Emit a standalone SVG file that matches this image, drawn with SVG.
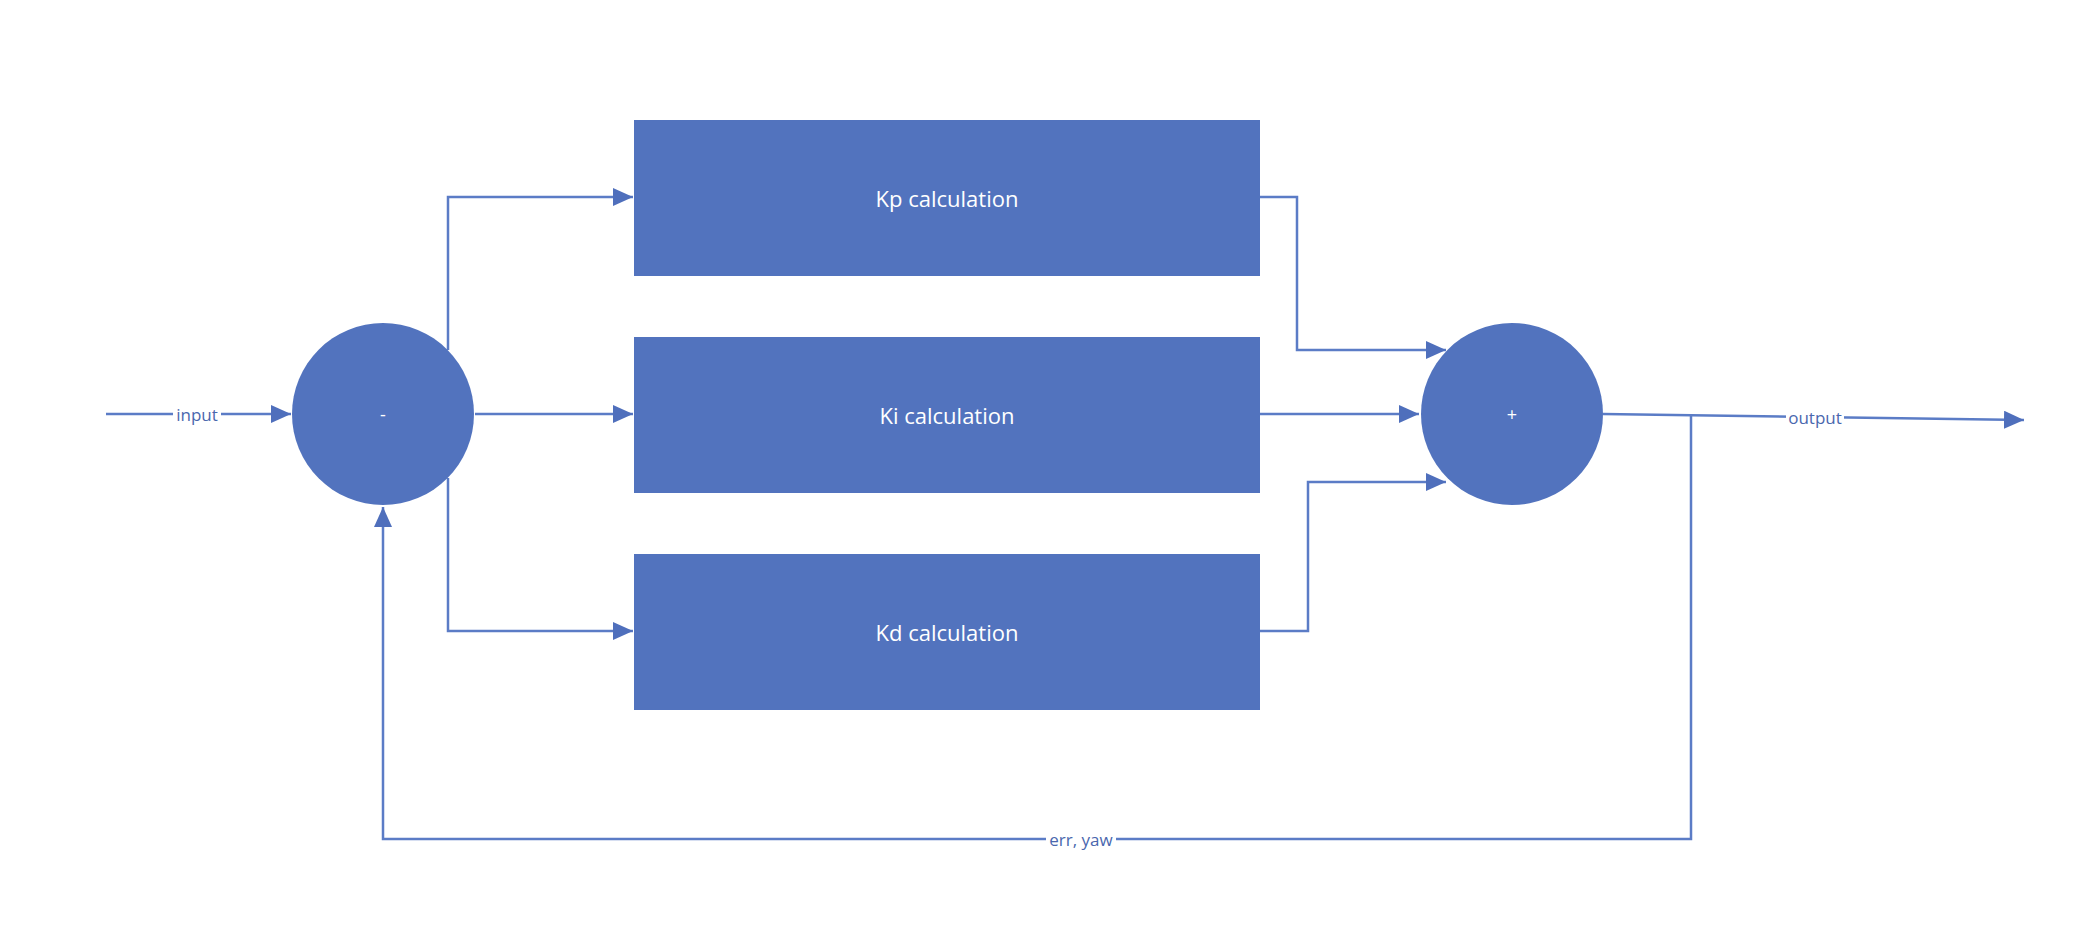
<svg xmlns="http://www.w3.org/2000/svg" width="2088" height="952" viewBox="0 0 2088 952">
<style>
.n{fill:#5273BE}
.t{fill:#fff;font-family:"Open Sans",sans-serif;font-size:22px;text-anchor:middle;dominant-baseline:central}
.c{fill:none;stroke:#5B7CC6;stroke-width:2.5}
.l{fill:#4A67AE;font-family:"Open Sans",sans-serif;font-size:17px;text-anchor:middle;dominant-baseline:central}
.bg{fill:#fff}
</style>
<defs><marker id="a" markerWidth="10" markerHeight="10" refX="9" refY="5" orient="auto" markerUnits="userSpaceOnUse" viewBox="0 0 10 10"><path d="M0,0L10,5L0,10z" fill="#4F6FBC"/></marker>
<marker id="b" markerWidth="20" markerHeight="18" refX="20" refY="9" orient="auto" markerUnits="userSpaceOnUse"><path d="M0,0L20,9L0,18z" fill="#4F6FBC"/></marker></defs>
<rect width="2088" height="952" fill="#fff"/>
<g id="connectors">
<path class="c" d="M106,414H291" marker-end="url(#b)"/>
<path class="c" d="M448,350V197H633" marker-end="url(#b)"/>
<path class="c" d="M475,414H633" marker-end="url(#b)"/>
<path class="c" d="M448,478V631H633" marker-end="url(#b)"/>
<path class="c" d="M1260,197H1297V350H1446" marker-end="url(#b)"/>
<path class="c" d="M1260,414H1419" marker-end="url(#b)"/>
<path class="c" d="M1260,631H1308V482H1446" marker-end="url(#b)"/>
<path class="c" d="M1603,414L2024,420" marker-end="url(#b)"/>
<path class="c" d="M1691,415V839H383V507" marker-end="url(#b)"/>
<rect class="bg" x="173" y="404" width="48" height="20"/><text class="l" x="197" y="414">input</text>
<rect class="bg" x="1786" y="407" width="58" height="20"/><text class="l" x="1815" y="417">output</text>
<rect class="bg" x="1046" y="829" width="70" height="20"/><text class="l" x="1081" y="839">err, yaw</text>
</g>
<g id="sub"><circle class="n" cx="383" cy="414" r="91"/><text class="t" x="383" y="414" style="font-size:18px">-</text></g>
<g id="kp"><rect class="n" x="634" y="120" width="626" height="156"/><text class="t" x="947" y="198">Kp calculation</text></g>
<g id="ki"><rect class="n" x="634" y="337" width="626" height="156"/><text class="t" x="947" y="415">Ki calculation</text></g>
<g id="kd"><rect class="n" x="634" y="554" width="626" height="156"/><text class="t" x="947" y="632">Kd calculation</text></g>
<g id="sum"><circle class="n" cx="1512" cy="414" r="91"/><text class="t" x="1512" y="414" style="font-size:18px">+</text></g>
</svg>
